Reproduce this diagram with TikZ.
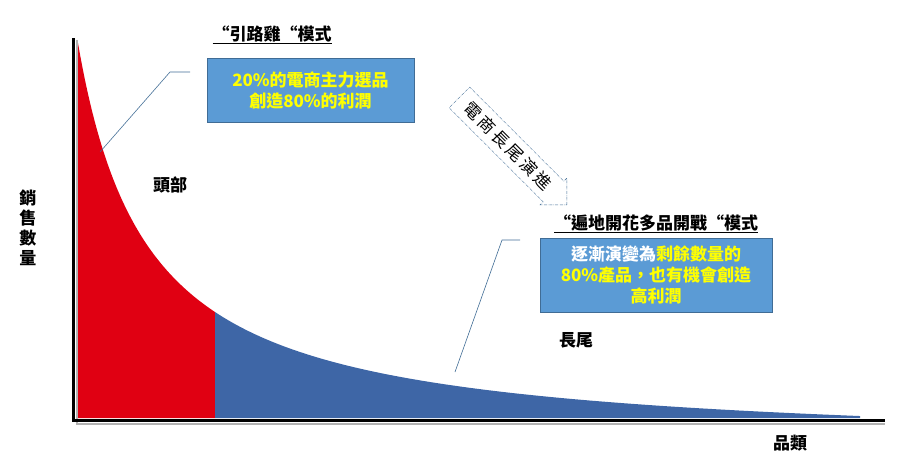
\documentclass[tikz,border=0pt]{standalone}
\usepackage{fontspec}
\setmainfont{Noto Sans CJK TC}
\usetikzlibrary{shapes.arrows}
\definecolor{boxblue}{HTML}{5B9BD5}
\definecolor{redfill}{HTML}{E00012}
\definecolor{bluefill}{HTML}{3E66A6}
\definecolor{ylw}{HTML}{FFFF00}
\begin{document}
\begin{tikzpicture}[x=1pt,y=-1pt,
  lbl/.style={font=\bfseries\fontsize{17}{20}\selectfont},
  infobox/.style={fill=boxblue,draw=boxblue!70!black,align=center,font=\bfseries\fontsize{17}{21}\selectfont,inner sep=0pt},
  ptr/.style={draw=boxblue!70!black,line width=0.6pt}]
\useasboundingbox (0,0) rectangle (909,472);
% areas
\fill[redfill] (78,418) -- plot[domain=78:215,samples=60] (\x,{418-284.4*(100/(\x-8))+31.4}) -- (215,418) -- cycle;
\fill[bluefill] (215,418) -- plot[domain=215:860,samples=100] (\x,{418-284.4*(100/(\x-8))+31.4}) -- (860,418) -- cycle;
% axes
\draw[gray!60,line width=1.5pt] (77,40) -- (77,424) -- (885,424);
\draw[black,line width=3pt] (73,38) -- (73,420) -- (885,420);
% labels
\node[lbl,align=center] (ylab) at (28,228) {銷\\售\\數\\量};
\node[lbl] (head) at (170,185) {頭部};
\node[lbl] (tail) at (576,340) {長尾};
\node[lbl] (xlab) at (790,443) {品類};
\node[lbl] (t1) at (272,35) {\underline{“引路雞“模式}};
\node[lbl] (t2) at (656,224) {\underline{“遍地開花多品開戰“模式}};
\node[infobox,minimum width=207pt,minimum height=64pt] (b1) at (310.5,90) {\color{ylw}20\%的電商主力選品\\\color{ylw}創造80\%的利潤};
\node[infobox,minimum width=232pt,minimum height=74pt] (b2) at (656,275) {\color{white}逐漸演變為\color{ylw}剩餘數量的\\\color{ylw}80\%產品，也有機會創造\\\color{ylw}高利潤};
% pointers
\coordinate (p1a) at (190,72); \coordinate (p1b) at (170,72); \coordinate (p1c) at (100,152);
\draw[ptr] (p1a) -- (p1b) -- (p1c);
\coordinate (p2a) at (520,240); \coordinate (p2b) at (502,240); \coordinate (p2c) at (455,372);
\draw[ptr] (p2a) -- (p2b) -- (p2c);
% dashed arrow
\node[single arrow,draw=boxblue!70!black,densely dash dot,rotate=-45,minimum height=152pt,minimum width=38pt,single arrow head extend=3pt,inner sep=2pt,font=\fontsize{17}{17}\selectfont] (arr) at (508,146) {電\,商\,長\,尾\,演\,進};
\end{tikzpicture}
\end{document}
